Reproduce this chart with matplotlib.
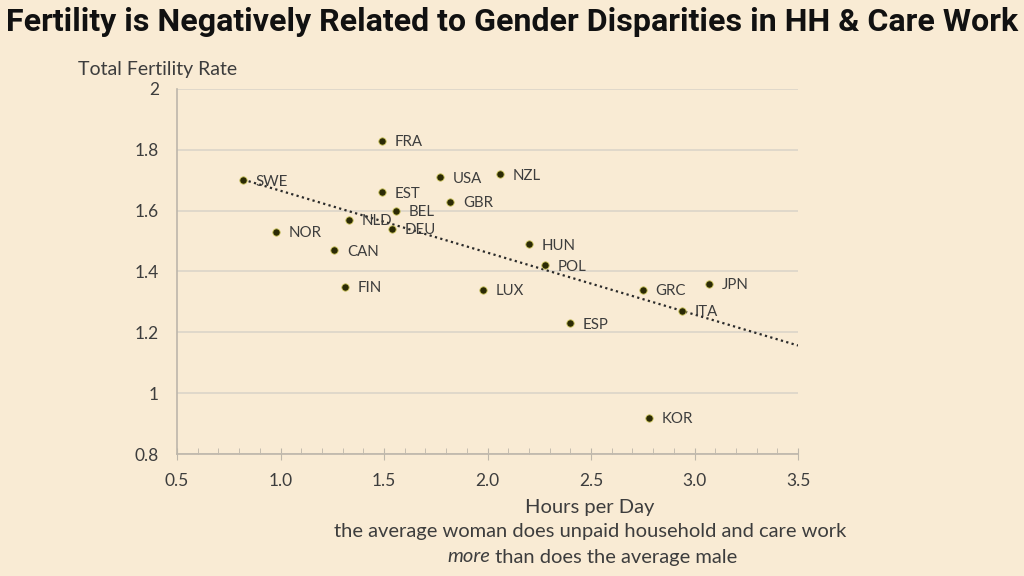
import matplotlib
matplotlib.use("Agg")
import matplotlib.pyplot as plt
import numpy as np
from matplotlib.ticker import MultipleLocator
from matplotlib.offsetbox import TextArea, HPacker, AnchoredOffsetbox

countries = ["FRA", "SWE", "USA", "NZL", "EST", "GBR", "BEL", "NLD", "DEU", "NOR",
             "CAN", "FIN", "LUX", "HUN", "POL", "GRC", "JPN", "ITA", "ESP", "KOR"]
hours = [1.49, 0.82, 1.77, 2.06, 1.49, 1.82, 1.56, 1.33, 1.54, 0.98,
         1.26, 1.31, 1.98, 2.20, 2.28, 2.75, 3.07, 2.94, 2.40, 2.78]
tfr = [1.83, 1.70, 1.71, 1.72, 1.66, 1.63, 1.60, 1.57, 1.54, 1.53,
       1.47, 1.35, 1.34, 1.49, 1.42, 1.34, 1.36, 1.27, 1.23, 0.92]

title = "Fertility is Negatively Related to Gender Disparities in HH & Care Work"
ylabel = "Total Fertility Rate"
xlabel = "Hours per Day"
sub1 = "the average woman does unpaid household and care work"
sub2a = "more"
sub2b = " than does the average male"

bg = "#F9EBD4"
txt = "#3d3d3d"
grid = "#DCD5C8"
spine = "#BDB6AA"

plt.rcParams['font.family'] = ['Lato', 'DejaVu Sans']

fig = plt.figure(figsize=(10.24, 5.76), dpi=100, facecolor=bg)
ax = fig.add_axes([0.1729, 0.2118, 0.6064, 0.6337], facecolor=bg)

ax.set_xlim(0.5, 3.5)
ax.set_ylim(0.8, 2.0)
ax.yaxis.set_major_locator(MultipleLocator(0.2))
ax.xaxis.set_major_locator(MultipleLocator(0.5))
ax.xaxis.set_minor_locator(MultipleLocator(0.1))
ax.grid(axis='y', color=grid, linewidth=1.2)
ax.set_axisbelow(True)
for s in ["top", "right"]:
    ax.spines[s].set_visible(False)
for s in ["left", "bottom"]:
    ax.spines[s].set_color(spine)
    ax.spines[s].set_linewidth(1.2)
ax.tick_params(axis='y', length=0, labelsize=12.5, labelcolor=txt, pad=13)
ax.tick_params(axis='x', which='major', direction='inout', length=8, color=spine,
               labelsize=12.5, labelcolor=txt, pad=10)
ax.tick_params(axis='x', which='minor', direction='in', length=4, color=spine)
ax.set_xticks(ax.get_xticks())
ax.set_xticklabels([f"{v:.1f}" for v in ax.get_xticks()])
ax.set_yticks(ax.get_yticks())
ax.set_yticklabels([f"{v:g}" for v in ax.get_yticks()])
ax.set_xlim(0.5, 3.5)
ax.set_ylim(0.8, 2.0)

# trend line (least squares fit of the data)
h = np.array(hours); t = np.array(tfr)
b, a = np.polyfit(h, t, 1)
xs = np.array([h.min(), 3.5])
ax.plot(xs, a + b * xs, linestyle=(0, (1, 1.5)), color="#2a2a2a", linewidth=1.6, zorder=2)

ax.scatter(hours, tfr, s=28, color="#2b2a05", edgecolor="#c9c25a", linewidth=0.6, zorder=3)
for c, x, y in zip(countries, hours, tfr):
    ax.annotate(c, (x, y), xytext=(9, -1), textcoords="offset points",
                ha="left", va="center", fontsize=10.8, color=txt, zorder=4)

# title, sized to fit the reference width
tt = fig.text(0.5, 1 - 22/576, title, ha="center", va="center", fontsize=24, fontweight="bold",
              family=['Roboto', 'Liberation Sans', 'DejaVu Sans'], color="#111111")
r = fig.canvas.get_renderer()
w = tt.get_window_extent(r).width
tt.set_fontsize(24 * 1010 / w)

fig.text(78/1024, 1 - 70/576, ylabel, ha="left", va="center", fontsize=14, color=txt)
fig.text(590/1024, 1 - 507/576, xlabel, ha="center", va="center", fontsize=14.5, color=txt)
fig.text(590/1024, 1 - 532/576, sub1, ha="center", va="center", fontsize=14.5, color=txt)
ta1 = TextArea(sub2a, textprops=dict(fontsize=14.5, color=txt, style="italic"))
ta2 = TextArea(sub2b, textprops=dict(fontsize=14.5, color=txt))
box = HPacker(children=[ta1, ta2], align="baseline", pad=0, sep=0)
ab = AnchoredOffsetbox(loc="center", child=box, frameon=False,
                       bbox_to_anchor=(592/1024, 1 - 557/576), bbox_transform=fig.transFigure,
                       borderpad=0, pad=0)
fig.add_artist(ab)

fig.savefig("out.png", dpi=100, facecolor=bg)
